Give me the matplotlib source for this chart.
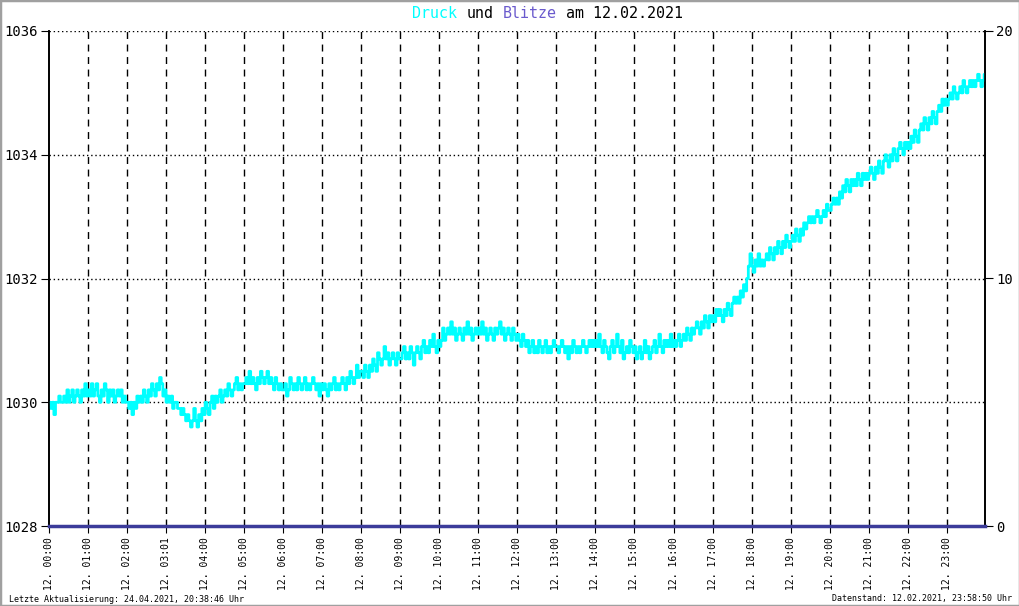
import matplotlib
matplotlib.use("Agg")
import matplotlib.pyplot as plt
from matplotlib.patches import Rectangle
import numpy as np

# pressure (hPa), one value every 2.5 minutes, one row per hour
druck = [
    1030.0, 1029.9, 1030.0, 1029.8, 1030.0, 1030.0, 1030.1, 1030.0, 1030.0, 1030.1, 1030.0, 1030.2,
    1030.0, 1030.1, 1030.2, 1030.0, 1030.1, 1030.2, 1030.1, 1030.0, 1030.2, 1030.1, 1030.3, 1030.1,
    1030.2, 1030.1, 1030.3, 1030.1, 1030.2, 1030.3, 1030.1, 1030.0, 1030.2, 1030.1, 1030.3, 1030.2,
    1030.0, 1030.2, 1030.1, 1030.2, 1030.0, 1030.1, 1030.2, 1030.1, 1030.2, 1030.0, 1030.1, 1030.0,
    1030.0, 1029.9, 1030.0, 1029.8, 1030.0, 1029.9, 1030.1, 1030.0, 1030.1, 1030.0, 1030.2, 1030.1,
    1030.0, 1030.2, 1030.1, 1030.3, 1030.2, 1030.1, 1030.3, 1030.2, 1030.4, 1030.3, 1030.1, 1030.2,
    1030.0, 1030.1, 1030.0, 1030.1, 1029.9, 1030.0, 1030.0, 1029.9, 1029.9, 1029.8, 1029.9, 1029.8,
    1029.7, 1029.8, 1029.7, 1029.6, 1029.7, 1029.9, 1029.7, 1029.6, 1029.8, 1029.7, 1029.9, 1029.8,
    1030.0, 1029.9, 1029.8, 1030.0, 1030.1, 1029.9, 1030.1, 1030.0, 1030.1, 1030.2, 1030.0, 1030.1,
    1030.2, 1030.1, 1030.3, 1030.2, 1030.1, 1030.2, 1030.3, 1030.4, 1030.2, 1030.3, 1030.2, 1030.3,
    1030.3, 1030.4, 1030.3, 1030.5, 1030.3, 1030.4, 1030.3, 1030.2, 1030.4, 1030.3, 1030.5, 1030.4,
    1030.3, 1030.4, 1030.5, 1030.3, 1030.4, 1030.3, 1030.2, 1030.4, 1030.3, 1030.2, 1030.3, 1030.2,
    1030.2, 1030.3, 1030.1, 1030.2, 1030.4, 1030.3, 1030.2, 1030.3, 1030.2, 1030.4, 1030.3, 1030.2,
    1030.3, 1030.4, 1030.2, 1030.3, 1030.2, 1030.3, 1030.4, 1030.3, 1030.2, 1030.3, 1030.1, 1030.3,
    1030.2, 1030.3, 1030.2, 1030.1, 1030.3, 1030.2, 1030.3, 1030.4, 1030.2, 1030.3, 1030.2, 1030.3,
    1030.4, 1030.3, 1030.2, 1030.4, 1030.3, 1030.5, 1030.4, 1030.3, 1030.4, 1030.6, 1030.4, 1030.5,
    1030.5, 1030.4, 1030.6, 1030.5, 1030.4, 1030.6, 1030.5, 1030.7, 1030.6, 1030.5, 1030.8, 1030.7,
    1030.6, 1030.7, 1030.9, 1030.7, 1030.8, 1030.6, 1030.7, 1030.8, 1030.7, 1030.6, 1030.8, 1030.7,
    1030.7, 1030.8, 1030.9, 1030.7, 1030.8, 1030.7, 1030.9, 1030.8, 1030.6, 1030.8, 1030.9, 1030.8,
    1030.7, 1030.9, 1031.0, 1030.8, 1030.9, 1030.8, 1031.0, 1030.9, 1031.1, 1030.9, 1030.8, 1031.0,
    1030.9, 1031.0, 1031.2, 1031.0, 1031.1, 1031.2, 1031.1, 1031.3, 1031.1, 1031.2, 1031.0, 1031.1,
    1031.2, 1031.1, 1031.0, 1031.2, 1031.1, 1031.3, 1031.1, 1031.2, 1031.0, 1031.1, 1031.2, 1031.1,
    1031.2, 1031.1, 1031.3, 1031.1, 1031.2, 1031.0, 1031.1, 1031.2, 1031.1, 1031.0, 1031.2, 1031.1,
    1031.2, 1031.3, 1031.1, 1031.2, 1031.0, 1031.1, 1031.2, 1031.1, 1031.0, 1031.2, 1031.1, 1031.0,
    1031.1, 1031.0, 1030.9, 1031.1, 1031.0, 1030.9, 1031.0, 1030.8, 1030.9, 1031.0, 1030.8, 1030.9,
    1030.8, 1031.0, 1030.9, 1030.8, 1030.9, 1031.0, 1030.8, 1030.9, 1030.8, 1030.9, 1031.0, 1030.9,
    1030.9, 1030.8, 1030.9, 1031.0, 1030.9, 1030.8, 1030.9, 1030.7, 1030.9, 1030.8, 1031.0, 1030.9,
    1030.8, 1030.9, 1030.8, 1030.9, 1031.0, 1030.9, 1030.8, 1030.9, 1031.0, 1030.9, 1031.0, 1030.9,
    1031.0, 1030.9, 1031.1, 1030.9, 1030.8, 1031.0, 1030.9, 1030.8, 1030.7, 1030.9, 1031.0, 1030.8,
    1030.9, 1031.1, 1030.9, 1030.8, 1031.0, 1030.7, 1030.8, 1030.9, 1030.8, 1031.0, 1030.9, 1030.8,
    1030.9, 1030.7, 1030.8, 1030.9, 1030.7, 1030.8, 1031.0, 1030.8, 1030.9, 1030.7, 1030.8, 1030.9,
    1031.0, 1030.8, 1030.9, 1031.1, 1030.9, 1030.8, 1031.0, 1030.9, 1031.0, 1030.9, 1031.1, 1030.9,
    1031.0, 1030.9, 1031.0, 1031.1, 1030.9, 1031.0, 1031.1, 1031.0, 1031.2, 1031.1, 1031.0, 1031.2,
    1031.1, 1031.2, 1031.3, 1031.2, 1031.1, 1031.3, 1031.2, 1031.4, 1031.3, 1031.2, 1031.4, 1031.3,
    1031.4, 1031.3, 1031.5, 1031.4, 1031.5, 1031.4, 1031.3, 1031.5, 1031.4, 1031.6, 1031.5, 1031.4,
    1031.6, 1031.7, 1031.6, 1031.7, 1031.6, 1031.8, 1031.7, 1031.9, 1031.8, 1032.0, 1032.2, 1032.4,
    1032.2, 1032.1, 1032.3, 1032.2, 1032.4, 1032.2, 1032.3, 1032.2, 1032.3, 1032.4, 1032.3, 1032.5,
    1032.4, 1032.3, 1032.5, 1032.4, 1032.6, 1032.5, 1032.4, 1032.6, 1032.5, 1032.7, 1032.6, 1032.5,
    1032.6, 1032.7, 1032.6, 1032.8, 1032.7, 1032.6, 1032.8, 1032.7, 1032.9, 1032.8, 1032.9, 1033.0,
    1032.9, 1033.0, 1032.9, 1033.0, 1033.1, 1033.0, 1032.9, 1033.0, 1033.1, 1033.0, 1033.2, 1033.1,
    1033.1, 1033.2, 1033.3, 1033.2, 1033.3, 1033.2, 1033.4, 1033.3, 1033.5, 1033.4, 1033.6, 1033.5,
    1033.4, 1033.6, 1033.5, 1033.6, 1033.5, 1033.7, 1033.6, 1033.5, 1033.7, 1033.6, 1033.7, 1033.6,
    1033.7, 1033.8, 1033.7, 1033.6, 1033.8, 1033.7, 1033.9, 1033.8, 1033.7, 1033.9, 1034.0, 1033.9,
    1033.8, 1034.0, 1033.9, 1034.1, 1034.0, 1033.9, 1034.1, 1034.2, 1034.1, 1034.0, 1034.2, 1034.1,
    1034.2, 1034.1, 1034.3, 1034.2, 1034.4, 1034.3, 1034.2, 1034.4, 1034.5, 1034.4, 1034.6, 1034.5,
    1034.4, 1034.6, 1034.5, 1034.7, 1034.6, 1034.5, 1034.7, 1034.8, 1034.7, 1034.9, 1034.8, 1034.9,
    1034.8, 1034.9, 1035.0, 1034.9, 1035.1, 1035.0, 1034.9, 1035.0, 1035.1, 1035.0, 1035.2, 1035.1,
    1035.0, 1035.1, 1035.2, 1035.1, 1035.2, 1035.1, 1035.2, 1035.3, 1035.2, 1035.1, 1035.2, 1035.3,
]
# lightning count per hour
blitze = [0] * 25

hour_labels = ["12. %02d:%02d" % (h, 1 if h == 3 else 0) for h in range(24)]
left_ticks = [1028, 1030, 1032, 1034, 1036]
right_ticks = [0, 10, 20]

title_parts = [("Druck", "#00ffff"), ("und", "black"), ("Blitze", "#6a5acd"), ("am 12.02.2021", "black")]
footer_left = "Letzte Aktualisierung: 24.04.2021, 20:38:46 Uhr"
footer_right = "Datenstand: 12.02.2021, 23:58:50 Uhr"

MONO = "DejaVu Sans Mono"

t = np.arange(len(druck)) * 2.5 / 60.0
t_end = 23 + 58 / 60 + 50 / 3600

fig = plt.figure(figsize=(10.2, 6.06), dpi=100)
ax = fig.add_axes([49 / 1020, 1 - 526 / 606, (985 - 49) / 1020, (526 - 31) / 606])
ax2 = ax.twinx()

ax.plot(np.append(t, t_end), np.append(druck, druck[-1]), color="#00ffff",
        lw=2.0, drawstyle="steps-post", zorder=3)
ax.set_xlim(0, t_end)
ax.set_ylim(1028, 1036)

# grid
for y in left_ticks[1:]:
    ax.axhline(y, color="black", lw=1, ls=(0, (1, 2)), zorder=1)
for h in range(1, 24):
    ax.axvline(h, color="black", lw=1, ls=(0, (5, 4)), zorder=1)

ax.set_yticks(left_ticks)
ax.set_yticklabels([str(v) for v in left_ticks], fontsize=10, family=MONO)
ax.set_xticks(range(24))
ax.set_xticklabels(hour_labels, rotation=90, fontsize=7, family=MONO)
ax.tick_params(axis="x", length=5, pad=3)
ax.tick_params(axis="y", length=6, pad=2)

# lightning series on right axis
ax2.plot(np.arange(25) * t_end / 24, blitze, color="#3c3c9a", lw=2.5, zorder=4, clip_on=False)
ax2.set_ylim(0, 20)
ax2.set_yticks(right_ticks)
ax2.set_yticklabels([str(v) for v in right_ticks], fontsize=10, family=MONO)
ax2.tick_params(axis="y", length=6, pad=2)

for a in (ax, ax2):
    a.spines["top"].set_visible(False)
    a.spines["bottom"].set_visible(False)
    a.spines["left"].set_linewidth(1.2)
    a.spines["right"].set_linewidth(1.2)

# title with coloured words, placed word by word (monospace character width)
title_fs = 10.8
char_w = 0.602 * title_fs * 100 / 72 / 1020
x = 412 / 1020
for word, col in title_parts:
    fig.text(x, 1 - 14 / 606, word, color=col, fontsize=title_fs,
             family=MONO, ha="left", va="center")
    x += (len(word) + 1) * char_w

fig.text(9 / 1020, 1 - 599 / 606, footer_left, fontsize=6, family=MONO, ha="left", va="center")
fig.text(1012 / 1020, 1 - 599 / 606, footer_right, fontsize=6, family=MONO, ha="right", va="center")

fig.patches.append(Rectangle((0, 0), 1, 1, transform=fig.transFigure, fill=False,
                             edgecolor="#a0a0a0", lw=2.5))

fig.savefig("out.png", dpi=100)
